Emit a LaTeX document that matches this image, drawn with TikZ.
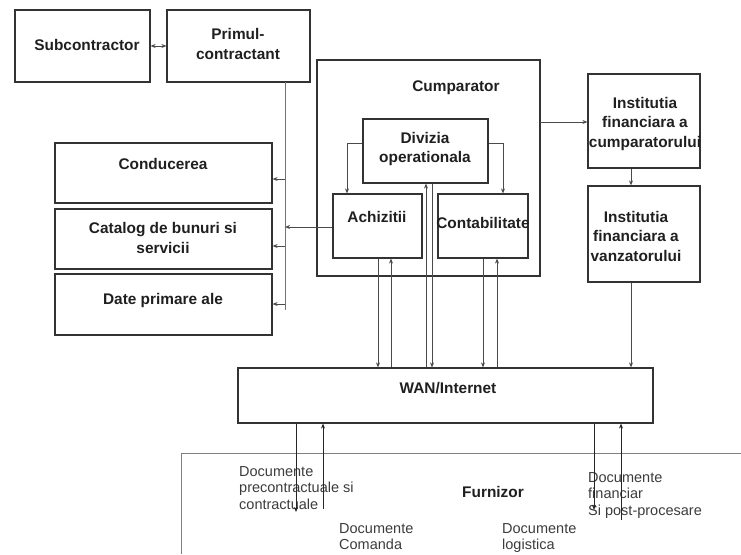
\documentclass[tikz,border=0pt]{standalone}
\usepackage{fontspec}
\setmainfont{Liberation Sans}
\usetikzlibrary{arrows.meta}
\definecolor{edge}{HTML}{333333}
\definecolor{wire}{HTML}{4A4A4A}
\definecolor{doctext}{HTML}{3C3C3C}
\tikzset{
  box/.style={draw=edge, line width=1.2pt, inner sep=0pt},
  lbl/.style={font=\bfseries\fontsize{15.4}{19.5}\selectfont, text=black!88, align=center, inner sep=0pt},
  doc/.style={font=\fontsize{14.5}{16.5}\selectfont, text=doctext, align=left, anchor=north west, inner sep=0pt},
  wirel/.style={draw=wire, line width=0.9pt},
  arr/.style={wirel, -{Stealth[length=5pt,width=4pt]}},
  darr/.style={wirel, {Stealth[length=5pt,width=4pt]}-{Stealth[length=5pt,width=4pt]}},
}
\newcommand{\boxat}[5]{\node[box, minimum width=#4-#2, minimum height=#5-#3] (#1) at ({(#2+#4)/2},{(#3+#5)/2}) {};}
\begin{document}
\begin{tikzpicture}[x=1pt, y=-1pt]
\useasboundingbox (0,0) rectangle (741,554);

% boxes
\boxat{sub}{15}{10}{150}{82}
\boxat{prim}{167}{10}{310}{82}
\boxat{cond}{55}{143}{272}{203}
\boxat{cat}{55}{209}{272}{269}
\boxat{date}{55}{274}{272}{335}
\boxat{cump}{317}{60}{540}{276}
\boxat{div}{363}{119}{488}{183}
\boxat{ach}{333}{194}{422}{258}
\boxat{cont}{438}{194}{528}{258}
\boxat{ifc}{588}{74}{700}{168}
\boxat{ifv}{588}{186}{700}{282}
\boxat{wan}{238}{368}{653}{423}

% supplier area (open frame)
\draw[draw=black!50, line width=0.9pt] (741,453) -| (181,554);

% labels
\node[lbl] at (87,45) {Subcontractor};
\node[lbl] at (238,44) {Primul-\\contractant};
\node[lbl] at (456,88) {Cumparator};
\node[lbl] at (163,164) {Conducerea};
\node[lbl] at (163,238) {Catalog de bunuri si\\servicii};
\node[lbl] at (163,301) {Date primare ale};
\node[lbl] at (425,149) {Divizia\\operationala};
\node[lbl] at (377,217) {Achizitii};
\node[lbl] at (483,223) {Contabilitate};
\node[lbl] at (645,124) {Institutia\\financiara a\\cumparatorului};
\node[lbl] at (636,236) {Institutia\\financiara a\\vanzatorului};
\node[lbl] at (448,388) {WAN/Internet};
\node[lbl] at (493,492) {Furnizor};

\node[doc] at (239,466) {Documente\\precontractuale si\\contractuale};
\node[doc] at (588,472) {Documente\\financiar\\Si post-procesare};
\node[doc] at (339,523) {Documente\\Comanda};
\node[doc] at (502,523) {Documente\\logistica};

% distribution bus on the left
\coordinate (busTop) at (285,82);
\coordinate (busBot) at (285,310);
\coordinate (bCond) at (285,179);
\coordinate (bCat) at (285,246);
\coordinate (bDate) at (285,304);
\coordinate (bAch) at (285,227);
\draw[wirel, draw=black!55] (busTop) -- (busBot);
\draw[arr] (bCond) -- (cond.east |- bCond);
\draw[arr] (bCat) -- (cat.east |- bCat);
\draw[arr] (bDate) -- (date.east |- bDate);
\draw[arr] (ach.west |- bAch) -- (bAch);

% subcontractor link
\draw[darr] (sub.east) -- (prim.west);

% operational division to its departments
\coordinate (dL) at (347,143);
\coordinate (dR) at (503,143);
\draw[arr] (div.west |- dL) -| (ach.north -| dL);
\draw[arr] (div.east |- dR) -| (cont.north -| dR);

% financial institutions
\coordinate (cf) at (540,122);
\draw[arr] (cf) -- (ifc.west |- cf);
\coordinate (fx) at (631,0);
\draw[arr] (ifc.south -| fx) -- (ifv.north -| fx);
\draw[arr] (ifv.south -| fx) -- (wan.north -| fx);

% departments to WAN
\coordinate (a1) at (378,0);
\coordinate (a2) at (391,0);
\coordinate (v1) at (426,0);
\coordinate (v2) at (432,0);
\coordinate (c1) at (483,0);
\coordinate (c2) at (497,0);
\draw[arr] (ach.south -| a1) -- (wan.north -| a1);
\draw[arr] (wan.north -| a2) -- (ach.south -| a2);
\draw[arr] (wan.north -| v1) -- (div.south -| v1);
\draw[arr] (div.south -| v2) -- (wan.north -| v2);
\draw[arr] (cont.south -| c1) -- (wan.north -| c1);
\draw[arr] (wan.north -| c2) -- (cont.south -| c2);

% WAN to supplier documents
\coordinate (s1) at (296,512);
\coordinate (s2) at (323,509);
\coordinate (s3) at (594,510);
\coordinate (s4) at (621,520);
\draw[arr, draw=black!85] (wan.south -| s1) -- (s1);
\draw[arr, draw=black!85] (s2) -- (wan.south -| s2);
\draw[arr, draw=black!85] (wan.south -| s3) -- (s3);
\draw[arr, draw=black!85] (s4) -- (wan.south -| s4);
\end{tikzpicture}
\end{document}
